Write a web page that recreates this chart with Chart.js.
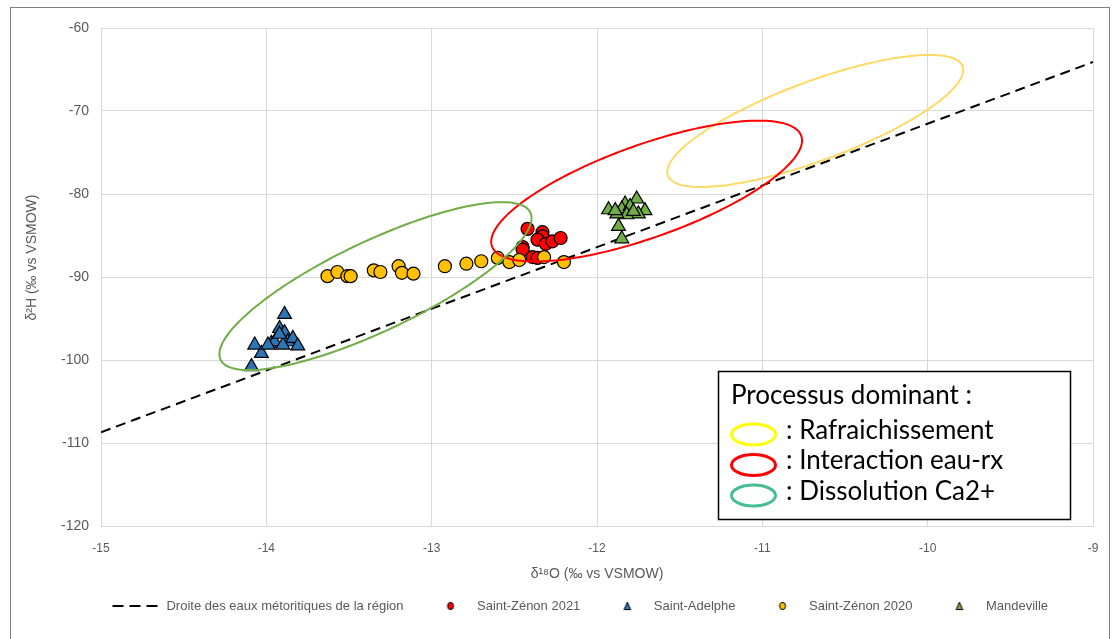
<!DOCTYPE html>
<html>
<head>
<meta charset="utf-8">
<script src="https://cdn.jsdelivr.net/npm/chart.js@4.4.1/dist/chart.umd.min.js"></script>
<style>
  html, body { margin: 0; padding: 0; background: #fff; }
</style>
</head>
<body>
<canvas id="chart" width="1114" height="639"></canvas>
<script>
// meteoric water line (two end points read on the plot)
const lineX = [-15, -9];
const lineY = [-108.7, -64.1];

const zenon2021X = [-12.42, -12.33, -12.33, -12.36, -12.31, -12.27, -12.22, -12.45, -12.45, -12.39, -12.36];
const zenon2021Y = [-84.2, -84.6, -85.1, -85.5, -86.0, -85.7, -85.3, -86.4, -86.7, -87.6, -87.7];

const adelpheX = [-13.89, -14.07, -14.03, -14.09, -13.92, -13.89, -13.97, -13.95, -13.87, -13.84, -13.81, -13.90, -13.99, -13.92];
const adelpheY = [-94.5, -98.2, -99.2, -100.8, -96.2, -96.7, -98.0, -97.8, -97.8, -97.4, -98.3, -98.2, -98.2, -96.9];

const zenon2020X = [-13.63, -13.57, -13.51, -13.49, -13.35, -13.31, -13.20, -13.18, -13.11, -12.92, -12.79, -12.70, -12.60, -12.53, -12.47, -12.32, -12.20];
const zenon2020Y = [-89.9, -89.4, -89.9, -89.9, -89.2, -89.4, -88.7, -89.5, -89.6, -88.7, -88.4, -88.1, -87.7, -88.2, -87.95, -87.6, -88.2];

const mandevilleX = [-11.76, -11.83, -11.93, -11.85, -11.80, -11.71, -11.75, -11.82, -11.88, -11.89, -11.87, -11.85, -11.78];
const mandevilleY = [-80.6, -81.2, -81.9, -81.8, -81.5, -82.0, -82.4, -82.5, -82.4, -82.0, -83.9, -85.4, -82.1];

const seriesNames = ["Droite des eaux métoritiques de la région", "Saint-Zénon 2021", "Saint-Adelphe", "Saint-Zénon 2020", "Mandeville"];

// process ellipses, in data units: centre, first half-axis (x, y), second half-axis (y only)
const ellipseCx = [-10.68, -11.70, -13.34];
const ellipseCy = [-71.2, -79.65, -91.1];
const ellipseUx = [0.895, 0.94, 0.944];
const ellipseUy = [6.14, 6.1, 8.19];
const ellipseVy = [-5.06, -5.9, -5.94];
const ellipseColors = ["#FFD966", "#FF0000", "#70AD47"];

const processTitle = "Processus dominant :";
const processLabels = [": Rafraichissement", ": Interaction eau-rx", ": Dissolution Ca2+"];
const processColors = ["#FFFF00", "#FF0000", "#45BD8F"];

const xTicks = [-15, -14, -13, -12, -11, -10, -9];
const yTicks = [-120, -110, -100, -90, -80, -70, -60];

const pts = (xs, ys) => xs.map((x, i) => ({ x: x, y: ys[i] }));

// small legend icons
function icon(kind, fill) {
  const c = document.createElement("canvas");
  const g = c.getContext("2d");
  if (kind === "line") {
    c.width = 56; c.height = 4;
    g.strokeStyle = "#000";
    g.lineWidth = 2;
    g.setLineDash([11, 6]);
    g.beginPath(); g.moveTo(0.5, 2); g.lineTo(45.5, 2); g.stroke();
    return c;
  }
  c.width = 10; c.height = 10;
  g.fillStyle = fill;
  g.strokeStyle = "#000";
  g.lineWidth = 1;
  g.beginPath();
  if (kind === "circle") {
    g.ellipse(5, 5, 3, 3.6, 0, 0, Math.PI * 2);
  } else {
    g.moveTo(5, 1.2); g.lineTo(8.3, 8.6); g.lineTo(1.7, 8.6); g.closePath();
  }
  g.fill(); g.stroke();
  return c;
}
const legendIcons = [
  icon("line"),
  icon("circle", "#FF0000"),
  icon("triangle", "#2E75B6"),
  icon("circle", "#FFC000"),
  icon("triangle", "#70AD47"),
];

const ellipsePlugin = {
  id: "ellipses",
  afterDatasetsDraw(chart) {
    const ctx = chart.ctx, xs = chart.scales.x, ys = chart.scales.y;
    ctx.save();
    for (let e = 0; e < ellipseCx.length; e++) {
      ctx.beginPath();
      for (let k = 0; k <= 180; k++) {
        const t = k / 180 * Math.PI * 2;
        const px = xs.getPixelForValue(ellipseCx[e] + ellipseUx[e] * Math.cos(t));
        const py = ys.getPixelForValue(ellipseCy[e] + ellipseUy[e] * Math.cos(t) + ellipseVy[e] * Math.sin(t));
        if (k === 0) ctx.moveTo(px, py); else ctx.lineTo(px, py);
      }
      ctx.strokeStyle = ellipseColors[e];
      ctx.lineWidth = 2;
      ctx.stroke();
    }
    ctx.restore();
  },
};

const framePlugin = {
  id: "frame",
  beforeDraw(chart) {
    const ctx = chart.ctx;
    ctx.save();
    ctx.fillStyle = "#fff";
    ctx.fillRect(0, 0, chart.width, chart.height);
    ctx.strokeStyle = "#808080";
    ctx.lineWidth = 1;
    ctx.strokeRect(10.5, 7.5, 1099, 700);
    ctx.restore();
  },
  afterLayout(chart) {
    // Excel centres its legend a bit to the right
    const lg = chart.legend;
    const dx = 584 - (lg.left + lg.right) / 2;
    lg.left += dx;
    lg.right += dx;
    lg.top -= 18.5;
    lg.bottom -= 18.5;
  },
  afterDraw(chart) {
    const ctx = chart.ctx, a = chart.chartArea;
    const bx = a.right - 375, by = a.top + 343, bw = 352, bh = 148;
    ctx.save();
    ctx.fillStyle = "#fff";
    ctx.fillRect(bx, by, bw, bh);
    ctx.strokeStyle = "#000";
    ctx.lineWidth = 1.5;
    ctx.strokeRect(bx + 0.5, by + 0.5, bw, bh);
    ctx.fillStyle = "#000";
    ctx.font = "26px Lato";
    ctx.textBaseline = "alphabetic";
    ctx.fillText(processTitle, bx + 13, by + 33);
    for (let i = 0; i < processLabels.length; i++) {
      const cy = by + 63.5 + i * 30.5;
      ctx.beginPath();
      ctx.ellipse(bx + 35.5, cy, 22, 10.5, 0, 0, Math.PI * 2);
      ctx.strokeStyle = processColors[i];
      ctx.lineWidth = 3;
      ctx.stroke();
      ctx.fillText(processLabels[i], bx + 68, cy + 4);
    }
    ctx.restore();
  },
};

const markerBase = { borderColor: "#000", borderWidth: 1.2, showLine: false };

const data = {
  datasets: [
    {
      label: seriesNames[0],
      data: pts(lineX, lineY),
      showLine: true,
      borderColor: "#000",
      borderWidth: 2,
      borderDash: [10, 6],
      pointRadius: 0,
      order: 5,
    },
    { ...markerBase, label: seriesNames[1], data: pts(zenon2021X, zenon2021Y), backgroundColor: "#FF0000", pointStyle: "circle", pointRadius: 6.5, order: 4 },
    { ...markerBase, label: seriesNames[2], data: pts(adelpheX, adelpheY), backgroundColor: "#2E75B6", pointStyle: "triangle", pointRadius: 8, order: 3 },
    { ...markerBase, label: seriesNames[3], data: pts(zenon2020X, zenon2020Y), backgroundColor: "#FFC000", pointStyle: "circle", pointRadius: 6.5, order: 2 },
    { ...markerBase, label: seriesNames[4], data: pts(mandevilleX, mandevilleY), backgroundColor: "#70AD47", pointStyle: "triangle", pointRadius: 8, order: 1 },
  ],
};

const config = {
  type: "scatter",
  data: data,
  options: {
    responsive: false,
    animation: false,
    layout: {
      padding: { left: 10, right: 21, top: 28, bottom: 0 },
    },
    scales: {
      x: {
        type: "linear",
        min: -15,
        max: -9,
        afterFit: (scale) => { scale.height = 65; },
        afterBuildTicks: (scale) => { scale.ticks = xTicks.map((v) => ({ value: v })); },
        ticks: {
          color: "#595959",
          padding: 15,
          font: { family: "Liberation Sans", size: 12 },
        },
        grid: { color: "#D9D9D9", drawTicks: false },
        border: { color: "#D9D9D9" },
        title: {
          display: true,
          text: "δ¹⁸O (‰ vs VSMOW)",
          color: "#595959",
          font: { family: "Liberation Sans", size: 14 },
          padding: { top: 0, bottom: 8.6 },
        },
      },
      y: {
        type: "linear",
        min: -120,
        max: -60,
        afterFit: (scale) => { scale.width = 91; },
        afterBuildTicks: (scale) => { scale.ticks = yTicks.map((v) => ({ value: v })); },
        ticks: {
          color: "#595959",
          padding: 12,
          font: { family: "Liberation Sans", size: 14 },
        },
        grid: { color: "#D9D9D9", drawTicks: false },
        border: { color: "#D9D9D9" },
        title: {
          display: true,
          // leading spaces lift the title like in the original
          text: "          δ²H (‰ vs VSMOW)",
          color: "#595959",
          font: { family: "Liberation Sans", size: 14 },
          padding: { top: 13.6, bottom: 0 },
        },
      },
    },
    plugins: {
      legend: {
        position: "bottom",
        maxHeight: 48,
        labels: {
          color: "#595959",
          font: { family: "Liberation Sans", size: 13 },
          usePointStyle: true,
          pointStyleWidth: 40,
          boxHeight: 8,
          padding: 27,
          generateLabels: (chart) => chart.data.datasets.map((ds, i) => ({
            text: ds.label,
            fillStyle: "#000",
            strokeStyle: "#000",
            lineWidth: 1,
            pointStyle: legendIcons[i],
            hidden: false,
            datasetIndex: i,
            fontColor: "#595959",
          })),
        },
      },
      tooltip: { enabled: false },
    },
  },
  plugins: [framePlugin, ellipsePlugin],
};

const chart = new Chart(document.getElementById("chart"), config);
</script>
</body>
</html>
